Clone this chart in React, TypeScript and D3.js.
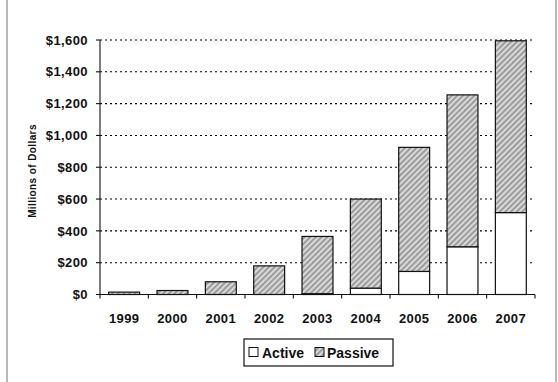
import React from 'react';
import * as d3 from 'd3';

const years = ['1999', '2000', '2001', '2002', '2003', '2004', '2005', '2006', '2007'];
const active = [0, 0, 0, 0, 5, 40, 145, 300, 515];
const passive = [15, 25, 80, 180, 360, 560, 780, 955, 1080];
const yTicks = [0, 200, 400, 600, 800, 1000, 1200, 1400, 1600];
const seriesNames = ['Active', 'Passive'];

const W = 558;
const H = 382;
const FONT = 'Arial, "Liberation Sans", Helvetica, sans-serif';

export default function App() {
  const x = d3.scaleBand<string>().domain(years).range([100, 535]).paddingInner(0.36).paddingOuter(0.18);
  const y = d3.scaleLinear().domain([0, 1600]).range([294.5, 40]);
  const fmt = (v: number) => '$' + d3.format(',')(v);

  const rows = years.map((yr, i) => ({ year: yr, Active: active[i], Passive: passive[i] }));
  const stack = d3.stack<any>().keys(seriesNames)(rows);

  const x0 = 100;
  const x1 = 535;
  const step = x.step();

  return (
    <svg width={W} height={H} style={{ position: 'absolute', left: 0, top: 0, background: '#fff' }} fontFamily={FONT}>
      <defs>
        <pattern id="hatch" width="4" height="4" patternUnits="userSpaceOnUse" patternTransform="rotate(45)">
          <rect width="4" height="4" fill="#9c9c9c" />
          <line x1="1" y1="0" x2="1" y2="4" stroke="#f4f4f4" strokeWidth="1.4" />
        </pattern>
      </defs>
      <rect x={0} y={0} width={W} height={H} fill="#fff" />
      {/* scanned page borders */}
      <line x1={7} y1={0} x2={7} y2={H} stroke="#a0a0a0" strokeWidth={1.5} />
      <line x1={556} y1={0} x2={556} y2={H} stroke="#a0a0a0" strokeWidth={1.5} />

      {/* gridlines */}
      {yTicks.filter((t) => t > 0).map((t) => (
        <line key={'g' + t} x1={x0} x2={x1 - 2} y1={y(t)} y2={y(t)} stroke="#000" strokeWidth={1.1} strokeDasharray="2,3" />
      ))}

      {/* bars */}
      {stack.map((s, si) =>
        s.map((d, i) => {
          const h = y(d[0]) - y(d[1]);
          if (h <= 0) return null;
          return (
            <rect
              key={si + '-' + i}
              x={x(years[i])}
              y={y(d[1])}
              width={x.bandwidth()}
              height={h}
              fill={si === 0 ? '#fff' : 'url(#hatch)'}
              stroke="#111"
              strokeWidth={1.2}
            />
          );
        })
      )}

      {/* y axis */}
      <line x1={x0} x2={x0} y1={y(1600)} y2={y(0)} stroke="#111" strokeWidth={1.1} />
      {yTicks.map((t) => (
        <g key={'t' + t}>
          <line x1={x0 - 4} x2={x0} y1={y(t)} y2={y(t)} stroke="#111" strokeWidth={1.1} />
          <text x={88} y={y(t)} dy="0.36em" textAnchor="end" fontSize={13} fontWeight="bold" letterSpacing={0.4} fill="#111">
            {fmt(t)}
          </text>
        </g>
      ))}

      {/* x axis */}
      <line x1={x0 - 4} x2={x1} y1={y(0)} y2={y(0)} stroke="#111" strokeWidth={1.2} />
      {d3.range(years.length + 1).map((i) => (
        <line key={'xt' + i} x1={x0 + i * step} x2={x0 + i * step} y1={y(0)} y2={y(0) + 4} stroke="#111" strokeWidth={1.1} />
      ))}
      {years.map((yr) => (
        <text key={'yl' + yr} x={(x(yr) as number) + x.bandwidth() / 2} y={318} dy="0.36em" textAnchor="middle" fontSize={13} fontWeight="bold" letterSpacing={0.4} fill="#111">
          {yr}
        </text>
      ))}

      {/* y axis title */}
      <text transform="translate(36,171) rotate(-90)" textAnchor="middle" fontSize={10} fontWeight="bold" letterSpacing={0.4} fill="#111">
        Millions of Dollars
      </text>

      {/* legend */}
      <rect x={244} y={339} width={149} height={27} fill="#fff" stroke="#111" strokeWidth={1.2} />
      <rect x={249} y={347.5} width={9} height={9} fill="#fff" stroke="#111" strokeWidth={1} />
      <text x={262} y={352.5} dy="0.36em" fontSize={14} fontWeight="bold" fill="#111">
        {seriesNames[0]}
      </text>
      <rect x={315} y={347.5} width={9} height={9} fill="url(#hatch)" stroke="#111" strokeWidth={1} />
      <text x={327} y={352.5} dy="0.36em" fontSize={14} fontWeight="bold" fill="#111">
        {seriesNames[1]}
      </text>
    </svg>
  );
}
